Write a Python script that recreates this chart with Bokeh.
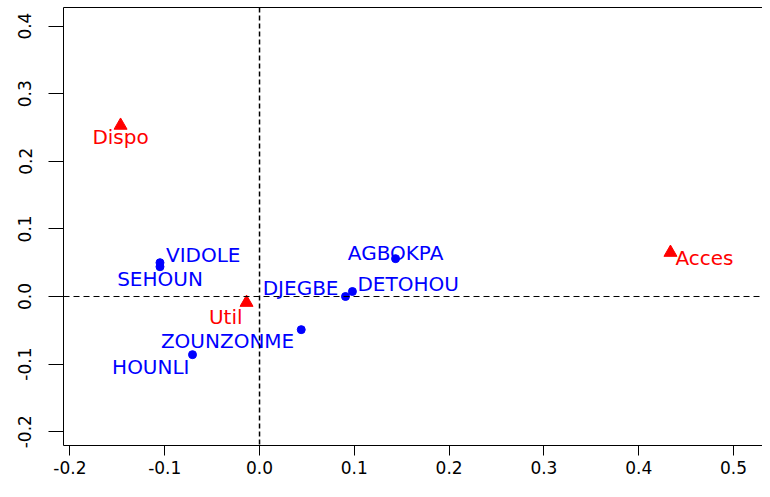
from bokeh.plotting import figure
from bokeh.models import ColumnDataSource, Span, FixedTicker, LinearAxis, Range1d
from bokeh.core.properties import value
from bokeh.embed import file_html
from bokeh.resources import INLINE

# Row points (blue)
row_names = ["AGBOKPA", "DETOHOU", "DJEGBE", "ZOUNZONME", "HOUNLI", "SEHOUN", "VIDOLE"]
row_x = [0.1435, 0.098, 0.0907, 0.044, -0.0707, -0.105, -0.105]
row_y = [0.056, 0.0074, 0.000, -0.049, -0.086, 0.044, 0.050]

# Column points (red)
col_names = ["Dispo", "Util", "Acces"]
col_x = [-0.1466, -0.0137, 0.4335]
col_y = [0.253, -0.009, 0.065]

x_ticks = [-0.2, -0.1, 0.0, 0.1, 0.2, 0.3, 0.4, 0.5]
x_tick_labels = ["-0.2", "-0.1", "0.0", "0.1", "0.2", "0.3", "0.4", "0.5"]
y_ticks = [-0.2, -0.1, 0.0, 0.1, 0.2, 0.3, 0.4]
y_tick_labels = ["-0.2", "-0.1", "0.0", "0.1", "0.2", "0.3", "0.4"]

# label placement (screen pixel offsets, alignment)
row_dx = [0, 5, -7, -7, -3, 0, 6]
row_dy = [-6, -8, -9, 11, 12, 12, -8]
row_align = ["center", "left", "right", "right", "right", "center", "left"]
col_dx = [0, -4, 5]
col_dy = [12, 14, 5]
col_align = ["center", "right", "left"]

FONT = "DejaVu Sans"

p = figure(width=762, height=481, output_backend="svg", toolbar_location=None,
           x_range=Range1d(-0.2068, 0.5306), y_range=Range1d(-0.2204, 0.4275),
           min_border_left=63, min_border_right=0, min_border_top=7, min_border_bottom=36,
           background_fill_color="white", border_fill_color="white")
p.grid.visible = False
p.outline_line_color = None

for ax in (p.xaxis[0], p.yaxis[0]):
    ax.axis_line_color = "black"
    ax.major_tick_line_color = "black"
    ax.minor_tick_line_color = None
    ax.major_tick_in = 0
    ax.major_label_text_font = FONT
    ax.major_label_text_font_size = "17px"
    ax.major_label_text_color = "black"

p.xaxis[0].ticker = FixedTicker(ticks=x_ticks)
p.xaxis[0].major_label_overrides = dict(zip(x_ticks, x_tick_labels))
p.xaxis[0].major_tick_out = 10
p.xaxis[0].major_label_standoff = 5

p.yaxis[0].ticker = FixedTicker(ticks=y_ticks)
p.yaxis[0].major_label_overrides = dict(zip(y_ticks, y_tick_labels))
p.yaxis[0].major_tick_out = 15
p.yaxis[0].major_label_standoff = 17
p.yaxis[0].major_label_orientation = "vertical"

top_ax = LinearAxis(ticker=FixedTicker(ticks=[]), major_tick_out=0, major_tick_in=0,
                    minor_tick_out=0, minor_tick_in=0, major_label_standoff=0,
                    major_label_text_font_size="0px", axis_line_color="black")
p.add_layout(top_ax, "above")

p.add_layout(Span(location=0, dimension="height", line_color="black", line_dash="5 3", line_width=1.5))
p.add_layout(Span(location=0, dimension="width", line_color="black", line_dash="6 4", line_width=1))

rsrc = ColumnDataSource(dict(x=row_x, y=row_y, name=row_names, dx=row_dx, dy=row_dy, align=row_align))
csrc = ColumnDataSource(dict(x=col_x, y=col_y, name=col_names, dx=col_dx, dy=col_dy, align=col_align))

p.scatter("x", "y", source=rsrc, marker="circle", size=8, color="#0000FF")
p.scatter("x", "y", source=csrc, marker="triangle", size=13, color="#FF0000")

p.text("x", "y", text="name", source=rsrc, x_offset="dx", y_offset="dy", text_align="align",
       text_baseline="middle", text_color="#0000FF", text_font=value(FONT), text_font_size="20px")
p.text("x", "y", text="name", source=csrc, x_offset="dx", y_offset="dy", text_align="align",
       text_baseline="middle", text_color="#FF0000", text_font=value(FONT), text_font_size="20px")

open("out.html", "w").write(file_html(p, INLINE))
